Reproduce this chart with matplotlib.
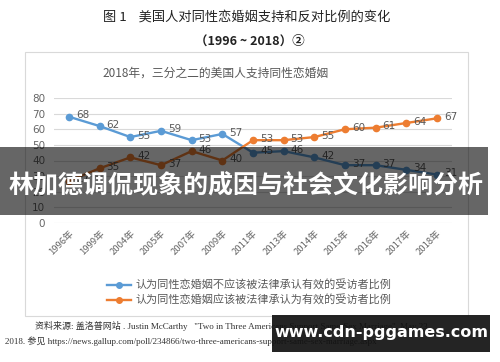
import matplotlib
matplotlib.use('Agg')
import matplotlib.pyplot as plt
from matplotlib.patches import Rectangle
from matplotlib.lines import Line2D

plt.rcParams['font.family'] = ['Noto Sans CJK SC', 'DejaVu Sans']

years = ['1996年', '1999年', '2004年', '2005年', '2007年', '2009年', '2011年',
         '2013年', '2014年', '2015年', '2016年', '2017年', '2018年']
oppose = [68, 62, 55, 59, 53, 57, 45, 46, 42, 37, 37, 34, 31]
support = [27, 35, 42, 37, 46, 40, 53, 53, 55, 60, 61, 64, 67]
oppose_label = '认为同性恋婚姻不应该被法律承认有效的受访者比例'
support_label = '认为同性恋婚姻应该被法律承认为有效的受访者比例'

blue = '#5B9BD5'
orange = '#ED7D31'
grey = '#595959'

W, H = 500, 362
fig = plt.figure(figsize=(W / 100, H / 100), dpi=100)

def fx(px):
    return px / W

def fy(py):
    return (H - py) / H

# chart panel frame (behind the axes)
fig.patches.append(Rectangle((fx(25), fy(316)), fx(468) - fx(25), fy(52) - fy(316),
                             transform=fig.transFigure, facecolor='white',
                             edgecolor='#d9d9d9', linewidth=0.8, zorder=-1))

ax = fig.add_axes([fx(53.7), fy(223), fx(452.3) - fx(53.7), fy(98) - fy(223)])
ax.set_facecolor('none')
x = list(range(len(years)))
ax.plot(x, oppose, color=blue, lw=1.7, marker='o', ms=4.5, zorder=3)
ax.plot(x, support, color=orange, lw=1.7, marker='o', ms=4.5, zorder=3)
for i in x:
    ax.annotate(str(oppose[i]), (i, oppose[i]), xytext=(5, 1), textcoords='offset points',
                fontsize=7.5, color=grey, va='center', ha='left', family='DejaVu Sans')
    ax.annotate(str(support[i]), (i, support[i]), xytext=(5, 1), textcoords='offset points',
                fontsize=7.5, color=grey, va='center', ha='left', family='DejaVu Sans')

ax.set_xlim(-0.5, len(years) - 0.5)
ax.set_ylim(0, 80)
ax.set_yticks(range(0, 81, 10))
ax.grid(axis='y', color='#d9d9d9', lw=0.8)
ax.set_axisbelow(True)
for s in ax.spines.values():
    s.set_visible(False)
ax.tick_params(length=0, colors='#666666')
ax.tick_params(axis='y', labelsize=7.5, pad=6)
ax.set_xticks(x)
ax.set_xticklabels(years, rotation=45, ha='right', rotation_mode='anchor', fontsize=6.8)
ax.tick_params(axis='x', pad=4)
for t in ax.get_yticklabels():
    t.set_family('DejaVu Sans')

# titles
fig.text(0.494, fy(17), '图 1    美国人对同性恋婚姻支持和反对比例的变化', ha='center', va='center',
         fontsize=9.5, color='#222222')
fig.text(0.5, fy(41), '（1996 ~ 2018）②', ha='center', va='center', fontsize=9,
         color='#222222', fontweight='bold')
fig.text(fx(216), fy(73), '2018年，三分之二的美国人支持同性恋婚姻', ha='center', va='center',
         fontsize=8.5, color=grey)

# legend
handles = [Line2D([], [], color=blue, lw=1.7, marker='o', ms=4),
           Line2D([], [], color=orange, lw=1.7, marker='o', ms=4)]
fig.legend(handles, [oppose_label, support_label], loc='center',
           bbox_to_anchor=(fx(249), fy(293)), frameon=False, fontsize=8,
           labelcolor=grey, handlelength=2.2, handletextpad=0.4, labelspacing=0.35)

# source note
src = ['Liberation Serif', 'Noto Sans CJK SC']
fig.text(fx(35), fy(326), '资料来源: 盖洛普网站 . Justin McCarthy   "Two in Three Americans Support Same-Sex Marriage", May 23,',
         ha='left', va='center', fontsize=6.5, color='#333333', family=src)
fig.text(fx(5), fy(341), '2018. 参见 https://news.gallup.com/poll/234866/two-three-americans-support-same-sex-marriage.aspx',
         ha='left', va='center', fontsize=6.5, color='#333333', family=src)

# overlay banner
fig.patches.append(Rectangle((0, fy(215)), fx(488), fy(147) - fy(215),
                             transform=fig.transFigure, facecolor='black', alpha=0.6,
                             edgecolor='none', zorder=10))
fig.text(fx(246), fy(186), '林加德调侃现象的成因与社会文化影响分析', ha='center', va='center',
         fontsize=18, color='white', fontweight='bold', zorder=11)

# watermark
fig.patches.append(Rectangle((fx(272), fy(352)), fx(490) - fx(272), fy(315) - fy(352),
                             transform=fig.transFigure, facecolor='#111111', alpha=0.92,
                             edgecolor='none', zorder=10))
fig.text(fx(381), fy(333), 'www.cdn-pggames.com', ha='center', va='center',
         fontsize=11.5, color='white', fontweight='bold', family='DejaVu Sans', zorder=11)

fig.savefig('out.png', dpi=100)
